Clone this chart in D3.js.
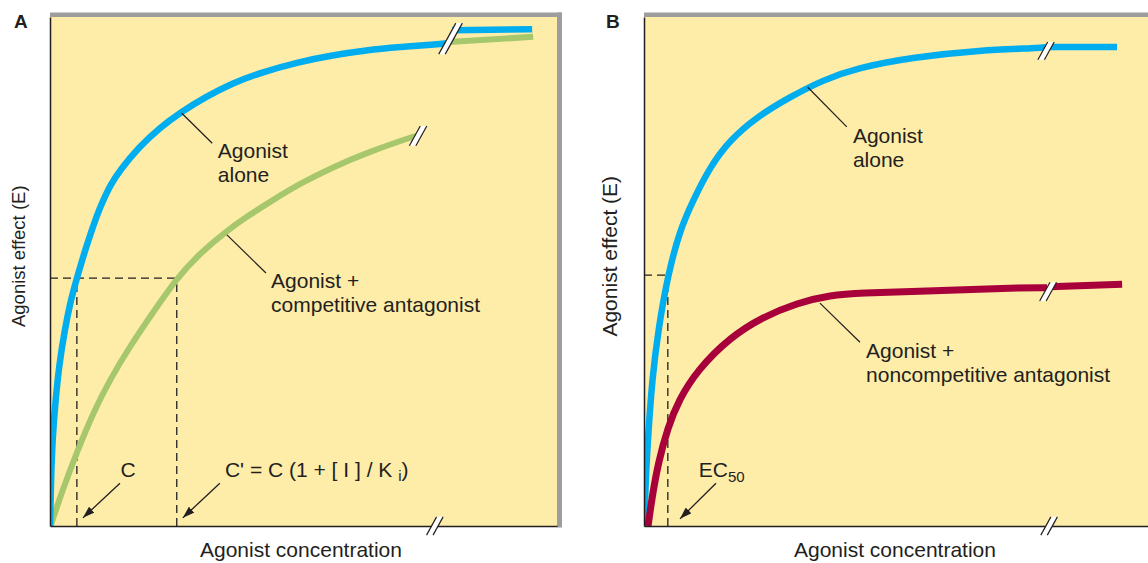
<!DOCTYPE html>
<html>
<head>
<meta charset="utf-8">
<script src="https://cdn.jsdelivr.net/npm/d3@7"></script>
<style>
  body { margin: 0; background: #fff; }
  svg { display: block; }
</style>
</head>
<body>
<div id="chart"></div>
<script>
// concentration runs 0-100 across a panel, effect 0-100 up a panel

// Panel A - agonist alone (before and after the axis break)
const agonistAloneA = [
  [0, 0], [0.2, 9.0], [0.5, 17.3], [1.1, 24.8], [1.8, 31.6], [2.9, 38.5], [4.1, 44.4],
  [5.3, 48.7], [7.1, 54.8], [9.4, 61.5], [10.5, 64.0], [11.9, 67.0], [13.8, 69.9],
  [17.6, 74.5], [21.6, 78.2], [25.8, 81.3], [30.7, 84.3], [36.0, 87.0], [41.3, 89.0],
  [49.1, 91.2], [55.7, 92.5], [62.4, 93.5], [69.0, 94.1], [76.9, 94.7], [78.1, 94.8]
];
const agonistAloneATail = [[79.3, 97.4], [95.1, 97.6]];

// Panel A - agonist + competitive antagonist
const competitiveA = [
  [0.1, 0], [2.5, 7.1], [5.3, 14.5], [8.5, 22.2], [11.8, 28.7], [15.7, 35.2], [20.2, 41.8],
  [25.0, 48.7], [29.6, 53.6], [34.6, 57.8], [39.3, 61.1], [43.4, 63.7], [49.5, 67.4],
  [55.8, 70.5], [62.4, 73.3], [71.2, 76.4], [72.6, 76.7]
];
const competitiveATail = [[78.7, 95.1], [95.3, 96.1]];

// Panel B - agonist alone
const agonistAloneB = [
  [0.1, 0], [0.3, 9.0], [0.9, 18.9], [1.6, 28.7], [2.8, 38.5], [4.7, 49.3], [7.1, 58.2],
  [9.7, 64.0], [13.0, 70.5], [16.9, 75.8], [22.3, 80.4], [28.8, 84.3], [35.3, 87.6],
  [42.0, 90.0], [53.1, 92.1], [66.3, 93.5], [78.1, 93.9], [79.3, 94.1]
];
const agonistAloneBTail = [[79.7, 94.1], [93.3, 94.1]];

// Panel B - agonist + noncompetitive antagonist
const noncompetitiveB = [
  [0.8, 0], [1.6, 5.7], [2.8, 12.4], [4.7, 19.4], [6.9, 24.8], [10.5, 30.6], [17.0, 37.1],
  [23.5, 41.1], [30.2, 43.8], [36.7, 45.4], [43.2, 45.8], [52.5, 46.0], [72.8, 46.8],
  [79.5, 46.8]
];
const noncompetitiveBTail = [[80.1, 47.0], [94.3, 47.5]];

// reference concentrations
const concC = 5.3, concCPrime = 25.0, halfEffectA = 48.7;
const ec50B = 4.7, halfEffectB = 49.3;

// break marks: concentration, effect span covered
const breaksA = [
  { x: 79.0, y0: 92.7, y1: 98.8 },
  { x: 72.6, y0: 74.7, y1: 78.6 },
  { x: 75.9, y0: -1.8, y1: 1.8 }
];
const breaksB = [
  { x: 79.3, y0: 91.6, y1: 95.1 },
  { x: 79.7, y0: 44.2, y1: 47.9 },
  { x: 79.9, y0: -1.8, y1: 1.8 }
];

// curve labels with their leader lines
const notesA = [
  { from: [26.0, 81.1], to: [32.0, 75.2], at: [33.1, 72.3], lines: ["Agonist", "alone"] },
  { from: [34.9, 57.2], to: [42.6, 49.7], at: [43.6, 46.8], lines: ["Agonist +", "competitive antagonist"] }
];
const notesB = [
  { from: [32.3, 86.2], to: [40.0, 78.4], at: [41.2, 75.2], lines: ["Agonist", "alone"] },
  { from: [34.7, 43.8], to: [42.6, 36.1], at: [43.8, 33.0], lines: ["Agonist +", "noncompetitive antagonist"] }
];

const axisTitleX = "Agonist concentration";
const axisTitleY = "Agonist effect (E)";

const width = 1148, height = 563;
const innerWidth = 507, innerHeight = 509;
const panelTop = 17;

const bgColor = "#feeca9";
const frameGray = "#9d9d9d";
const ink = "#231f20";
const blue = "#00aeef";
const green = "#a6c76c";
const crimson = "#a8003b";

const svg = d3.select("#chart")
  .append("svg")
  .attr("width", width)
  .attr("height", height)
  .style("font-family", "'Liberation Sans', Arial, Helvetica, sans-serif");

const defs = svg.append("defs");
defs.append("clipPath")
  .attr("id", "plot-clip")
  .append("rect")
  .attr("width", innerWidth)
  .attr("height", innerHeight);

defs.append("marker")
  .attr("id", "arrowhead")
  .attr("viewBox", "0 0 12 8")
  .attr("refX", 12)
  .attr("refY", 4)
  .attr("markerWidth", 12)
  .attr("markerHeight", 8)
  .attr("markerUnits", "userSpaceOnUse")
  .attr("orient", "auto")
  .append("path")
  .attr("d", "M0,0L12,4L0,8z")
  .attr("fill", ink);

const x = d3.scaleLinear().domain([0, 100]).range([0, innerWidth]);
const y = d3.scaleLinear().domain([0, 100]).range([innerHeight, 0]);

// hand-drawn look: smooth B-spline through the read points
const curve = d3.line()
  .x(d => x(d[0]))
  .y(d => y(d[1]))
  .curve(d3.curveBasis);
const straight = d3.line().x(d => x(d[0])).y(d => y(d[1]));

function drawPanel(p) {
  const g = svg.append("g").attr("transform", `translate(${p.left},${panelTop})`);

  g.append("rect")
    .attr("width", innerWidth)
    .attr("height", innerHeight)
    .attr("fill", bgColor);

  // grey frame on top and right
  g.append("rect")
    .attr("y", -4.5)
    .attr("width", innerWidth + 5)
    .attr("height", 4.5)
    .attr("fill", frameGray);
  g.append("rect")
    .attr("x", innerWidth)
    .attr("y", -4.5)
    .attr("width", 5)
    .attr("height", innerHeight + 6)
    .attr("fill", frameGray);

  // dashed guides
  p.guides.forEach(d => {
    g.append("path")
      .attr("d", straight(d))
      .attr("fill", "none")
      .attr("stroke", ink)
      .attr("stroke-width", 1.3)
      .attr("stroke-dasharray", "8,5");
  });

  const plot = g.append("g").attr("clip-path", "url(#plot-clip)");
  p.curves.forEach(c => {
    plot.append("path")
      .attr("d", c.data.length > 2 ? curve(c.data) : straight(c.data))
      .attr("fill", "none")
      .attr("stroke", c.color)
      .attr("stroke-width", c.width);
  });

  // axes: bare lines, no ticks
  g.append("g")
    .attr("transform", `translate(0,${innerHeight})`)
    .call(d3.axisBottom(x).tickValues([]).tickSizeOuter(0))
    .call(a => a.select(".domain").attr("stroke", ink).attr("stroke-width", 1.5));
  g.append("g")
    .call(d3.axisLeft(y).tickValues([]).tickSizeOuter(0))
    .call(a => a.select(".domain").attr("stroke", ink).attr("stroke-width", 1.5));

  // break marks
  p.breaks.forEach(b => {
    const cx = x(b.x), top = y(b.y1), bot = y(b.y0);
    const slant = (bot - top) * 0.55, gap = 6.5;
    const l0 = [cx - gap / 2 - slant / 2, bot], l1 = [cx - gap / 2 + slant / 2, top];
    const r0 = [cx + gap / 2 - slant / 2, bot], r1 = [cx + gap / 2 + slant / 2, top];
    g.append("path")
      .attr("d", `M${l0}L${l1}L${r1}L${r0}Z`)
      .attr("fill", "#fff");
    [[l0, l1], [r0, r1]].forEach(([a, b2]) => {
      g.append("line")
        .attr("x1", a[0]).attr("y1", a[1])
        .attr("x2", b2[0]).attr("y2", b2[1])
        .attr("stroke", ink)
        .attr("stroke-width", 1.2);
    });
  });

  // leader lines + labels
  p.notes.forEach(n => {
    g.append("line")
      .attr("x1", x(n.from[0])).attr("y1", y(n.from[1]))
      .attr("x2", x(n.to[0])).attr("y2", y(n.to[1]))
      .attr("stroke", ink)
      .attr("stroke-width", 1.2);
    const t = g.append("text")
      .attr("x", x(n.at[0]))
      .attr("y", y(n.at[1]))
      .attr("fill", ink)
      .style("font-size", "21px");
    n.lines.forEach((s, i) => {
      t.append("tspan")
        .attr("x", x(n.at[0]))
        .attr("dy", i === 0 ? 0 : 24)
        .text(s);
    });
  });

  // arrows
  p.arrows.forEach(a => {
    g.append("line")
      .attr("x1", x(a.from[0])).attr("y1", y(a.from[1]))
      .attr("x2", x(a.to[0])).attr("y2", y(a.to[1]))
      .attr("stroke", ink)
      .attr("stroke-width", 1.3)
      .attr("marker-end", "url(#arrowhead)");
  });

  // axis titles
  g.append("text")
    .attr("transform", `translate(${p.yTitleOffset},${innerHeight * 0.47}) rotate(-90)`)
    .attr("text-anchor", "middle")
    .attr("fill", ink)
    .style("font-size", p.yTitleSize + "px")
    .text(axisTitleY);

  g.append("text")
    .attr("x", innerWidth * 0.495)
    .attr("y", innerHeight + 31)
    .attr("text-anchor", "middle")
    .attr("fill", ink)
    .style("font-size", "21px")
    .text(axisTitleX);

  g.append("text")
    .attr("x", p.letterOffset)
    .attr("y", 11)
    .attr("fill", ink)
    .style("font-size", "19px")
    .style("font-weight", "bold")
    .text(p.letter);

  return g;
}

// Panel A
const gA = drawPanel({
  left: 50,
  letter: "A",
  letterOffset: -36,
  yTitleOffset: -25,
  yTitleSize: 18.5,
  guides: [
    [[0, halfEffectA], [concCPrime, halfEffectA]],
    [[concC, 0], [concC, halfEffectA]],
    [[concCPrime, 0], [concCPrime, halfEffectA]]
  ],
  curves: [
    { data: competitiveA, color: green, width: 6 },
    { data: competitiveATail, color: green, width: 6 },
    { data: agonistAloneA, color: blue, width: 6.5 },
    { data: agonistAloneATail, color: blue, width: 6.5 }
  ],
  breaks: breaksA,
  notes: notesA,
  arrows: [
    { from: [13.8, 8.4], to: [6.5, 1.6] },
    { from: [33.5, 8.4], to: [26.2, 1.6] }
  ]
});

gA.append("text")
  .attr("x", x(15.4))
  .attr("y", y(9.6))
  .attr("text-anchor", "middle")
  .attr("fill", ink)
  .style("font-size", "21px")
  .text("C");

const cPrime = gA.append("text")
  .attr("x", x(34.5))
  .attr("y", y(9.6))
  .attr("fill", ink)
  .style("font-size", "21px");
cPrime.append("tspan").text("C' = C (1 + [ I ] / K ");
cPrime.append("tspan").attr("dy", 4).style("font-size", "15px").text("i");
cPrime.append("tspan").attr("dy", -4).text(")");

// Panel B
const gB = drawPanel({
  left: 644,
  letter: "B",
  letterOffset: -38,
  yTitleOffset: -27,
  yTitleSize: 21,
  guides: [
    [[0, halfEffectB], [ec50B, halfEffectB]],
    [[ec50B, 0], [ec50B, halfEffectB]]
  ],
  curves: [
    { data: agonistAloneB, color: blue, width: 6.5 },
    { data: agonistAloneBTail, color: blue, width: 6.5 },
    { data: noncompetitiveB, color: crimson, width: 7 },
    { data: noncompetitiveBTail, color: crimson, width: 7 }
  ],
  breaks: breaksB,
  notes: notesB,
  arrows: [
    { from: [14.2, 8.4], to: [7.1, 1.4] }
  ]
});

const ec = gB.append("text")
  .attr("x", x(10.8))
  .attr("y", y(9.6))
  .attr("fill", ink)
  .style("font-size", "21px");
ec.append("tspan").text("EC");
ec.append("tspan").attr("dy", 5).style("font-size", "15px").text("50");
</script>
</body>
</html>
